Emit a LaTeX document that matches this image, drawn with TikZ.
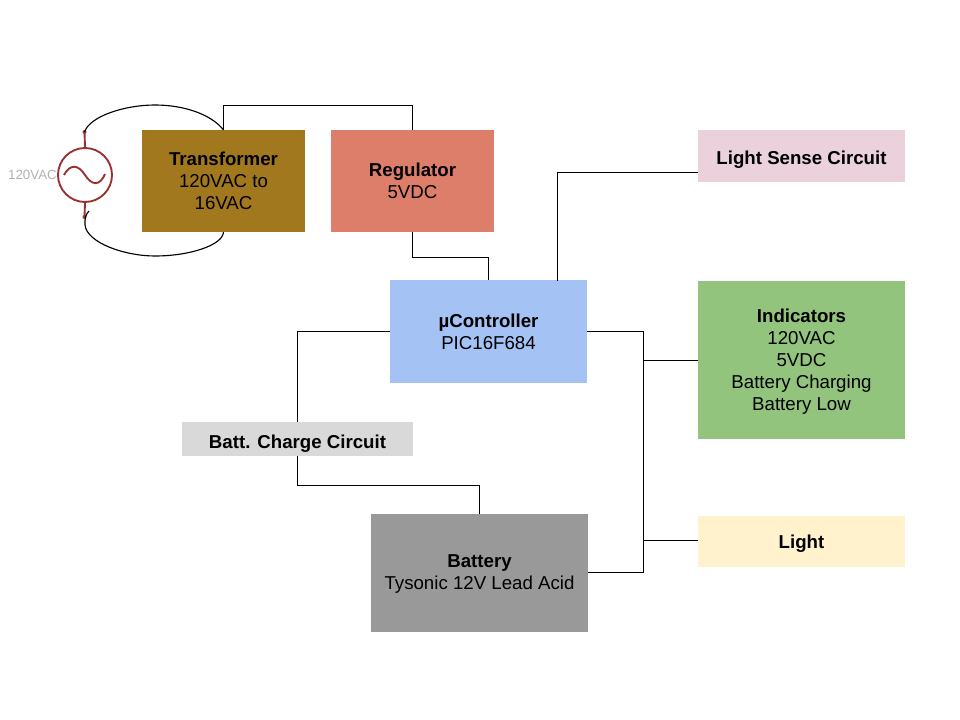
\documentclass[tikz,border=0pt]{standalone}
\usepackage{fontspec}
\setmainfont{Liberation Sans}
\usepackage{tikz}
\definecolor{brownbox}{HTML}{A2781F}
\definecolor{redbox}{HTML}{DD7E6B}
\definecolor{pinkbox}{HTML}{EAD1DC}
\definecolor{bluebox}{HTML}{A4C2F4}
\definecolor{greenbox}{HTML}{93C47D}
\definecolor{lightgraybox}{HTML}{D9D9D9}
\definecolor{graybox}{HTML}{999999}
\definecolor{yellowbox}{HTML}{FFF2CC}
\definecolor{sourcered}{HTML}{9C2F2F}
\tikzstyle{block}=[inner sep=0pt,outer sep=0pt,align=center,text depth=0pt,font=\fontsize{14}{16.5}\selectfont]
\tikzstyle{stacked}=[block,execute at begin node={\rule{0pt}{17pt}}]
\tikzstyle{wire}=[draw,black,line width=0.85pt]
\tikzstyle{lead}=[draw,sourcered,line width=1.4pt]
\begin{document}
\begin{tikzpicture}[x=0.75pt,y=-0.75pt]
    \useasboundingbox (0,0) rectangle (960,720);
    \path node[stacked,fill=brownbox,minimum width=122.25pt,minimum height=76.5pt] (Transformer) at (223.5,181) {\textbf{Transformer}\\120VAC to\\16VAC}
        node[stacked,fill=redbox,minimum width=122.25pt,minimum height=76.5pt] (Regulator) at (412.5,181) {\textbf{Regulator}\\5VDC}
        node[block,fill=pinkbox,minimum width=155.25pt,minimum height=39pt,execute at begin node={\rule{0pt}{13pt}}] (LightSense) at (801.5,156) {\textbf{Light Sense Circuit}}
        node[stacked,fill=bluebox,minimum width=148pt,minimum height=76.5pt] (Controller) at (488.5,331.5) {\textbf{µController}\\PIC16F684}
        node[stacked,fill=greenbox,minimum width=155.25pt,minimum height=118.5pt] (Indicators) at (801.5,360) {\textbf{Indicators}\\120VAC\\5VDC\\Battery Charging\\Battery Low}
        node[block,fill=lightgraybox,minimum width=173.25pt,minimum height=25.5pt,execute at begin node={\rule{0pt}{14.5pt}}] (Charge) at (297.5,439) {\textbf{Batt. Charge Circuit}}
        node[stacked,fill=graybox,minimum width=162.75pt,minimum height=88.5pt] (Battery) at (479.5,572.5) {\textbf{Battery}\\Tysonic 12V Lead Acid}
        node[block,fill=yellowbox,minimum width=155.25pt,minimum height=38.25pt] (Light) at (801.5,541.5) {\textbf{Light}}
        node[circle,lead,fill=none,inner sep=0pt,minimum size=40.5pt] (Source) at (85,175) {}
        node[anchor=east,inner sep=0pt,text=black!30,font=\fontsize{10}{12}\selectfont] (SourceLabel) at (Source.west) {120VAC};

    % free ends
    \coordinate (SourceTop) at (84.5,132);
    \coordinate (SourceBottom) at (84.5,217);
    \coordinate (ControllerTop) at (557.5,281);
    \coordinate (LightSenseIn) at (698,172.5);
    \coordinate (TapIndicators) at (643.5,360.5);
    \coordinate (TapLight) at (643.5,540.5);

    % source
    \draw[lead] (Source.north) -- (SourceTop);
    \draw[lead] (Source.south) -- (SourceBottom);
    \fill[sourcered] (SourceTop) circle (1.5pt) (SourceBottom) circle (1.5pt);
    \draw[sourcered,line width=1.4pt] (64,175) .. controls (70,164) and (78,164) .. (85,175)
        .. controls (92,186) and (100,186) .. (105,174);

    % wires
    \draw[wire] (SourceTop) .. controls (90,116) and (125,105) .. (155,105)
        .. controls (185,105) and (212,115) .. (Transformer.north);
    \draw[wire] (89,211) .. controls (86,214) and (84.5,218) .. (85,225)
        .. controls (87,243) and (125,256) .. (155,256)
        .. controls (190,256) and (223,245) .. (Transformer.south);
    \draw[wire] (Transformer.north) |- (340,105.5) -| (Regulator.north);
    \draw[wire] (Regulator.south) |- (450,257.5) -| (Controller.north);
    \draw[wire] (ControllerTop) |- (LightSenseIn);
    \draw[wire] (Controller.west) -| (Charge.north);
    \draw[wire] (Charge.south) |- (400,485.5) -| (Battery.north);
    \draw[wire] (Controller.east) -| (TapLight);
    \draw[wire] (TapIndicators) -- (TapIndicators -| Indicators.west);
    \draw[wire] (TapLight) -- (TapLight -| Light.west);
    \draw[wire] (Battery.east) -| (TapLight);
\end{tikzpicture}
\end{document}
